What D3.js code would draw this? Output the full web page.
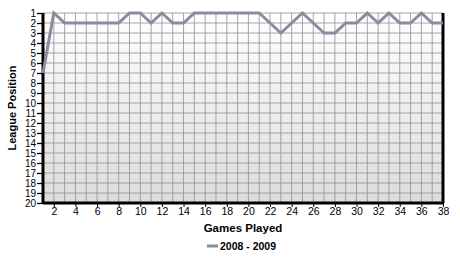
<!DOCTYPE html>
<meta charset="utf-8">
<script src="https://d3js.org/d3.v7.min.js"></script>
<style>
body { margin: 0; background: #fff; }
svg text { font-family: Arial, "Liberation Sans", sans-serif; }
</style>
<div id="my_dataviz"></div>
<script>

// games and league positions, season 2008 - 2009
var games = d3.range(1, 39);
var positions = [7, 1, 2, 2, 2, 2, 2, 2, 1, 1, 2, 1, 2, 2, 1, 1, 1, 1, 1, 1, 1,
                 2, 3, 2, 1, 2, 3, 3, 2, 2, 1, 2, 1, 2, 2, 1, 2, 2];
var yTicks = d3.range(1, 21);
var xTicks = d3.range(2, 39, 2);
var seriesName = "2008 - 2009";

var margin = {top: 13, right: 17, bottom: 54, left: 43},
    width = 460 - margin.left - margin.right,
    height = 257 - margin.top - margin.bottom;

var svgRoot = d3.select("#my_dataviz")
  .append("svg")
    .attr("width", 460)
    .attr("height", 257);

var defs = svgRoot.append("defs");
var grad = defs.append("linearGradient")
    .attr("id", "bg")
    .attr("x1", 0).attr("y1", 0).attr("x2", 0).attr("y2", 1);
grad.append("stop").attr("offset", "0%").attr("stop-color", "#ffffff");
grad.append("stop").attr("offset", "100%").attr("stop-color", "#dcdcdc");

var svg = svgRoot.append("g")
    .attr("transform", "translate(" + margin.left + "," + margin.top + ")");

var x = d3.scaleLinear()
  .domain([1, 38])
  .range([0, width]);

var y = d3.scaleLinear()
  .domain([1, 20])
  .range([0, height]);

// background
svg.append("rect")
  .attr("width", width)
  .attr("height", height)
  .style("fill", "url(#bg)");

// grid
svg.append("g")
  .selectAll("line")
  .data(games)
  .enter()
  .append("line")
    .attr("x1", function (d) { return x(d); })
    .attr("x2", function (d) { return x(d); })
    .attr("y1", 0)
    .attr("y2", height)
    .style("stroke", "#8f8f8f")
    .style("stroke-width", 0.8);

svg.append("g")
  .selectAll("line")
  .data(yTicks)
  .enter()
  .append("line")
    .attr("x1", 0)
    .attr("x2", width)
    .attr("y1", function (d) { return y(d); })
    .attr("y2", function (d) { return y(d); })
    .style("stroke", "#8f8f8f")
    .style("stroke-width", 0.8);

// Y axis
var yAxis = svg.append("g")
  .call(d3.axisLeft(y).tickValues(yTicks).tickSize(6).tickPadding(1));
yAxis.select(".domain").style("stroke-width", 3).attr("d", "M0,0V" + height);
yAxis.selectAll(".tick line").style("stroke-width", 1.3);
yAxis.selectAll("text").style("font-size", "10px").style("fill", "#000");

// X axis
var xAxis = svg.append("g")
  .attr("transform", "translate(0," + height + ")")
  .call(d3.axisBottom(x).tickValues(xTicks).tickSize(4).tickPadding(1));
xAxis.select(".domain").style("stroke-width", 3).attr("d", "M0,0H" + width);
xAxis.selectAll(".tick line").style("stroke-width", 1);
xAxis.selectAll("text").style("font-size", "10.5px").style("fill", "#000");

// right border
svg.append("line")
  .attr("x1", width).attr("x2", width)
  .attr("y1", 0).attr("y2", height)
  .style("stroke", "#000")
  .style("stroke-width", 3);

// the line
var line = d3.line()
  .x(function (d, i) { return x(games[i]); })
  .y(function (d) { return y(d); });

svg.append("path")
  .datum(positions)
  .attr("d", line)
  .style("fill", "none")
  .style("stroke", "#8b8b9f")
  .style("stroke-width", 3)
  .style("stroke-linejoin", "miter");

// axis titles
svgRoot.append("text")
  .attr("transform", "translate(16," + (margin.top + height / 2) + ") rotate(-90)")
  .attr("text-anchor", "middle")
  .style("font-size", "11px")
  .style("font-weight", "bold")
  .text("League Position");

svgRoot.append("text")
  .attr("x", margin.left + width / 2)
  .attr("y", 232)
  .attr("text-anchor", "middle")
  .style("font-size", "11.5px")
  .style("font-weight", "bold")
  .text("Games Played");

// legend
svgRoot.append("line")
  .attr("x1", 207).attr("x2", 218)
  .attr("y1", 246).attr("y2", 246)
  .style("stroke", "#8b8b9f")
  .style("stroke-width", 3);

svgRoot.append("text")
  .attr("x", 220)
  .attr("y", 250)
  .style("font-size", "10.5px")
  .style("font-weight", "bold")
  .text(seriesName);

</script>
